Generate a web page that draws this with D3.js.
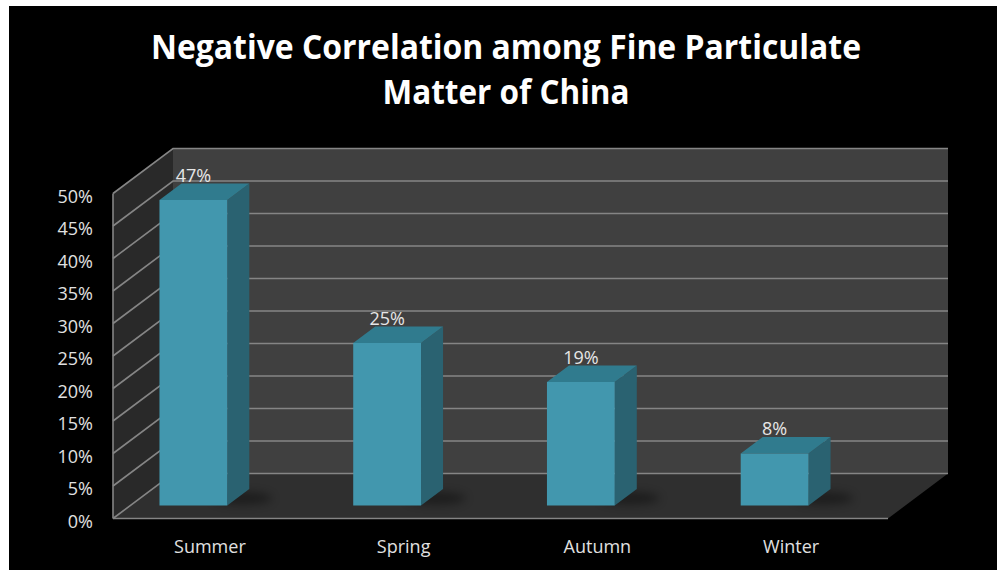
<!DOCTYPE html>
<html>
<head>
<meta charset="utf-8">
<script src="https://cdn.jsdelivr.net/npm/d3@7"></script>
<style>
  html, body { margin: 0; padding: 0; background: #ffffff; }
  svg { display: block; }
  text { font-family: "Open Sans", "Noto Sans", sans-serif; }
</style>
</head>
<body>
<svg id="chart" width="997" height="570"></svg>
<script>
// Seasonal share of fine particulate matter
const categories = ["Summer", "Spring", "Autumn", "Winter"];
const values = [47, 25, 19, 8];
const tickValues = [0, 5, 10, 15, 20, 25, 30, 35, 40, 45, 50];
const titleLines = ["Negative Correlation among Fine Particulate", "Matter of China"];

const svg = d3.select("#chart");

// black chart area
svg.append("rect").attr("x", 9).attr("y", 6).attr("width", 988).attr("height", 564).attr("fill", "#000");

// oblique 3D frame: front plane scales plus a depth offset
const x = d3.scaleBand().domain(categories).range([113, 888]);
const y = d3.scaleLinear().domain([0, 50]).range([518.5, 193.5]);
const DX = 60, DY = -45;           // full depth of the floor
const proj = (px, v, t) => [px + DX * t, y(v) + DY * t];
const poly = pts => pts.map(p => p.join(",")).join(" ");

const x0 = x.range()[0], x1 = x.range()[1];
const gridColor = "#858585";

// back wall
svg.append("polygon")
  .attr("points", poly([proj(x0, 50, 1), proj(x1, 50, 1), proj(x1, 0, 1), proj(x0, 0, 1)]))
  .attr("fill", "#404040");
// side wall
svg.append("polygon")
  .attr("points", poly([proj(x0, 50, 0), proj(x0, 50, 1), proj(x0, 0, 1), proj(x0, 0, 0)]))
  .attr("fill", "#292929");
// floor
svg.append("polygon")
  .attr("points", poly([proj(x0, 0, 0), proj(x1, 0, 0), proj(x1, 0, 1), proj(x0, 0, 1)]))
  .attr("fill", "#2f2f2f");

// gridlines on back and side walls
const grid = svg.append("g").attr("stroke", gridColor).attr("stroke-width", 1.6).attr("fill", "none");
tickValues.forEach(v => {
  const a = proj(x0, v, 0), b = proj(x0, v, 1), c = proj(x1, v, 1);
  grid.append("polyline").attr("points", poly([a, b, c]));
});
// wall and floor edges
grid.append("line")
  .attr("x1", proj(x0, 0, 0)[0]).attr("y1", proj(x0, 0, 0)[1])
  .attr("x2", proj(x0, 50, 0)[0]).attr("y2", proj(x0, 50, 0)[1]);
grid.append("line")
  .attr("x1", proj(x0, 0, 0)[0]).attr("y1", proj(x0, 0, 0)[1])
  .attr("x2", proj(x1, 0, 0)[0]).attr("y2", proj(x1, 0, 0)[1]);

// soft shadow under the bars
const defs = svg.append("defs");
defs.append("filter").attr("id", "soft").attr("x", "-50%").attr("y", "-80%").attr("width", "200%").attr("height", "260%")
  .append("feGaussianBlur").attr("stdDeviation", 5);

const bw = x.bandwidth();
const tFront = 0.29, tBack = 0.657;
const barLeft = c => x(c) + bw * 0.15;
const barRight = c => x(c) + bw * 0.5;

const bars = svg.append("g");
categories.forEach((c, i) => {
  const L = barLeft(c), R = barRight(c);
  const fb = proj(R, 0, tFront), bb = proj(R, 0, tBack);
  bars.append("ellipse")
    .attr("cx", (fb[0] + bb[0]) / 2 + 4).attr("cy", (fb[1] + bb[1]) / 2 + 1)
    .attr("rx", 30).attr("ry", 6)
    .attr("fill", "#000").attr("opacity", 0.4).attr("filter", "url(#soft)");
});

categories.forEach((c, i) => {
  const L = barLeft(c), R = barRight(c), v = values[i];
  // right side face
  bars.append("polygon")
    .attr("points", poly([proj(R, v, tFront), proj(R, v, tBack), proj(R, 0, tBack), proj(R, 0, tFront)]))
    .attr("fill", "#2a6271");
  // top face
  bars.append("polygon")
    .attr("points", poly([proj(L, v, tFront), proj(L, v, tBack), proj(R, v, tBack), proj(R, v, tFront)]))
    .attr("fill", "#307b8e");
  // front face
  bars.append("polygon")
    .attr("points", poly([proj(L, v, tFront), proj(R, v, tFront), proj(R, 0, tFront), proj(L, 0, tFront)]))
    .attr("fill", "#4297ae");
  // value label
  const top = proj((L + R) / 2, v, tFront);
  bars.append("text")
    .attr("x", top[0]).attr("y", top[1] - 18)
    .attr("text-anchor", "middle")
    .attr("fill", "#e6e6e6").attr("font-size", 18)
    .text(v + "%");
});

// value axis labels
const yAxis = svg.append("g")
  .attr("transform", "translate(93,3)")
  .call(d3.axisLeft(y).tickValues(tickValues).tickFormat(d => d + "%").tickSize(0).tickPadding(0));
yAxis.select(".domain").remove();
yAxis.selectAll("text").attr("fill", "#e0e0e0").attr("font-size", 18)
  .attr("font-family", "'Open Sans', sans-serif");

// category labels
const xAxis = svg.append("g")
  .attr("transform", "translate(0,540)")
  .call(d3.axisBottom(x).tickSize(0).tickPadding(0));
xAxis.select(".domain").remove();
xAxis.selectAll("text").attr("fill", "#e0e0e0").attr("font-size", 18)
  .attr("font-family", "'Open Sans', sans-serif");

// title
const titleWidths = [710, 247];
const titleBase = [59, 104];
titleLines.forEach((t, i) => {
  svg.append("text")
    .attr("x", 506).attr("y", titleBase[i])
    .attr("text-anchor", "middle")
    .attr("fill", "#ffffff").attr("font-weight", "bold").attr("font-size", 34)
    .attr("textLength", titleWidths[i]).attr("lengthAdjust", "spacingAndGlyphs")
    .text(t);
});
</script>
</body>
</html>
